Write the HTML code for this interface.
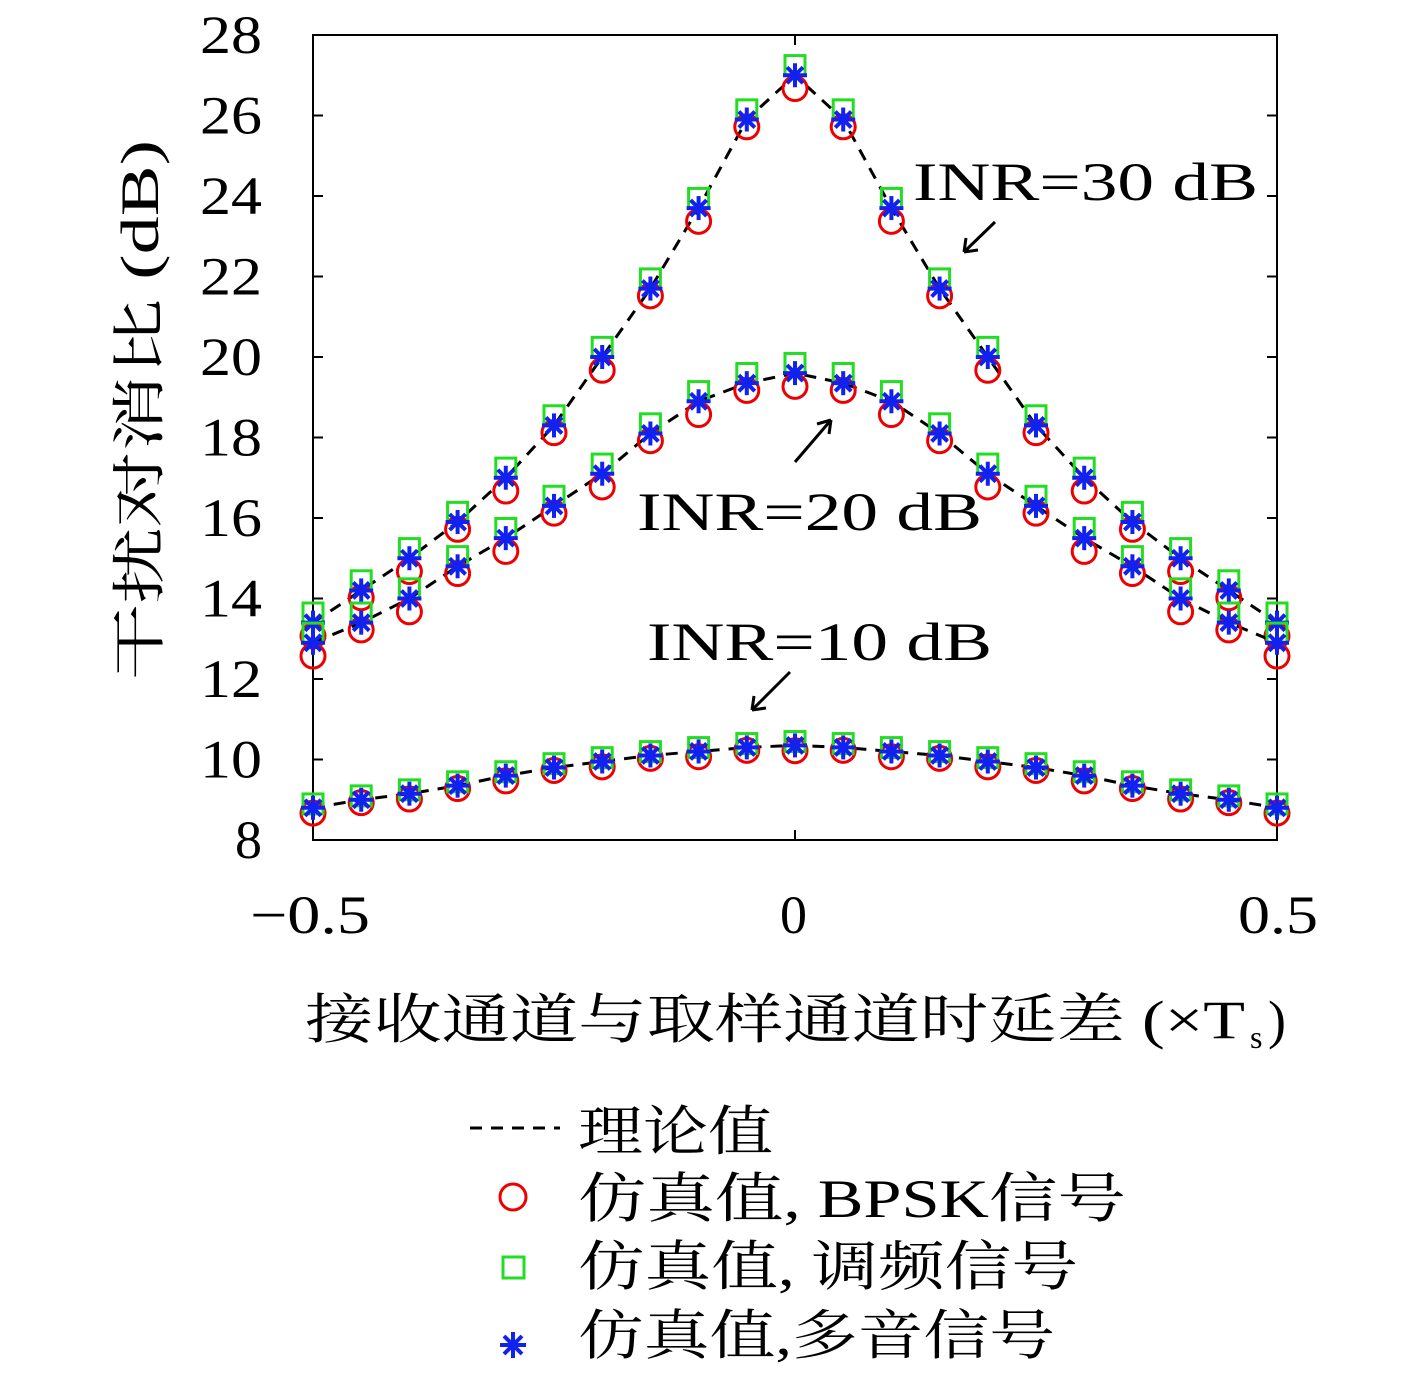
<!DOCTYPE html>
<html><head><meta charset="utf-8"><style>
html,body{margin:0;padding:0;background:#fff;}
svg{display:block;}
text{font-family:"Liberation Serif","Noto Serif CJK SC",serif;fill:#000;}
</style></head><body>
<svg id="s" width="1417" height="1377" viewBox="0 0 1417 1377" xmlns="http://www.w3.org/2000/svg">
<rect x="313" y="35" width="964" height="805" fill="none" stroke="#000" stroke-width="2"/>
<g id="ticks" stroke="#000" stroke-width="2"></g>
<g id="yl" font-size="54" text-anchor="end"></g>
<g font-size="54">
<text x="250" y="933" textLength="120" lengthAdjust="spacingAndGlyphs">−0.5</text><text x="780" y="933">0</text><text x="1238" y="933" textLength="80" lengthAdjust="spacingAndGlyphs">0.5</text>
</g>
<text transform="translate(158,680) rotate(-90)" font-size="54" textLength="540" lengthAdjust="spacingAndGlyphs">干扰对消比 (dB)</text>
<text x="305" y="1038" font-size="54" textLength="940" lengthAdjust="spacingAndGlyphs">接收通道与取样通道时延差 (×T</text>
<text x="1250" y="1048" font-size="32">s</text><text x="1268" y="1038" font-size="54">)</text>
<g id="curves"></g>
<g font-size="54">
<text x="913" y="200" textLength="345" lengthAdjust="spacingAndGlyphs">INR=30 dB</text>
<text x="637" y="530" textLength="345" lengthAdjust="spacingAndGlyphs">INR=20 dB</text>
<text x="647" y="660" textLength="345" lengthAdjust="spacingAndGlyphs">INR=10 dB</text>
</g>
<g stroke="#000" stroke-width="3" fill="none">
<path d="M995 222 L964 252 M964 252 L966 238 M964 252 L978 250"/>
<path d="M795 462 L831 420 M831 420 L817 424 M831 420 L829 434"/>
<path d="M790 672 L752 710 M752 710 L754 696 M752 710 L766 708"/>
</g>
<line x1="470" y1="1128" x2="560" y2="1128" stroke="#000" stroke-width="3" stroke-dasharray="12,9"/>
<circle cx="513" cy="1197" r="13" fill="none" stroke="#e00" stroke-width="3"/>
<rect x="503" y="1257" width="21" height="21" fill="none" stroke="#2d2" stroke-width="3"/>
<g stroke="#12e" stroke-width="4" transform="translate(513,1345)"><line x1="-13" y1="0" x2="13" y2="0"/><line x1="0" y1="-13" x2="0" y2="13"/><line x1="-9" y1="-9" x2="9" y2="9"/><line x1="-9" y1="9" x2="9" y2="-9"/></g>
<g font-size="54">
<text x="578" y="1150" textLength="195" lengthAdjust="spacingAndGlyphs">理论值</text>
<text x="578" y="1217" textLength="548" lengthAdjust="spacingAndGlyphs">仿真值, BPSK信号</text>
<text x="578" y="1285" textLength="500" lengthAdjust="spacingAndGlyphs">仿真值, 调频信号</text>
<text x="578" y="1354" textLength="477" lengthAdjust="spacingAndGlyphs">仿真值,多音信号</text>
</g>
</svg>
<script>
var s=document.getElementById('s'),NS='http://www.w3.org/2000/svg';
function X(x){return 795+x*964;}function Y(v){return 840-(v-8)*40.25;}
function el(t,a,p){var e=document.createElementNS(NS,t);for(var k in a)e.setAttribute(k,a[k]);(p||s).appendChild(e);return e;}
var tk=document.getElementById('ticks'),yl=document.getElementById('yl');
for(var v=8;v<=28;v+=2){var y=Y(v);el('line',{x1:313,y1:y,x2:323,y2:y},tk);el('line',{x1:1267,y1:y,x2:1277,y2:y},tk);
var t=el('text',{x:262,y:y+18},yl);t.textContent=v;if(v>=10){t.setAttribute('textLength',62);t.setAttribute('lengthAdjust','spacingAndGlyphs');}}
[-0.5,0,0.5].forEach(function(x){el('line',{x1:X(x),y1:840,x2:X(x),y2:830},tk);el('line',{x1:X(x),y1:35,x2:X(x),y2:45},tk);});
var half30=[13.4,14.2,15.0,15.9,17.0,18.3,20.0,21.7,23.7,25.9,27.0];
var half20=[12.9,13.4,14.0,14.8,15.5,16.3,17.1,18.1,18.9,19.35,19.6];
var half10=[8.8,9.0,9.15,9.35,9.6,9.8,9.95,10.1,10.2,10.3,10.35];
function full(h){return h.concat(h.slice(0,10).reverse());}
var C=document.getElementById('curves');
[full(half30),full(half20),full(half10)].forEach(function(d,ci){
 var p='';d.forEach(function(v,i){p+=(i?'L':'M')+X(-0.5+i*0.05)+' '+Y(v);});
 el('path',{d:p,fill:'none',stroke:'#000','stroke-width':3,'stroke-dasharray':'12,9'},C);
 d.forEach(function(v,i){var x=X(-0.5+i*0.05);var off=ci==2?0.12:0.3;
  el('circle',{cx:x,cy:Y(v-off*(i%2?0.6:1.1)),r:12,fill:'none',stroke:'#e00','stroke-width':3},C);
  el('rect',{x:x-10,y:Y(v+off*0.8)-10,width:20,height:20,fill:'none',stroke:'#2d2','stroke-width':3},C);
  var g=el('g',{stroke:'#12e','stroke-width':4,transform:'translate('+x+','+Y(v)+')'},C);
  el('line',{x1:-12,y1:0,x2:12,y2:0},g);el('line',{x1:0,y1:-12,x2:0,y2:12},g);
  el('line',{x1:-8,y1:-8,x2:8,y2:8},g);el('line',{x1:-8,y1:8,x2:8,y2:-8},g);
 });
});
</script>
</body></html>
